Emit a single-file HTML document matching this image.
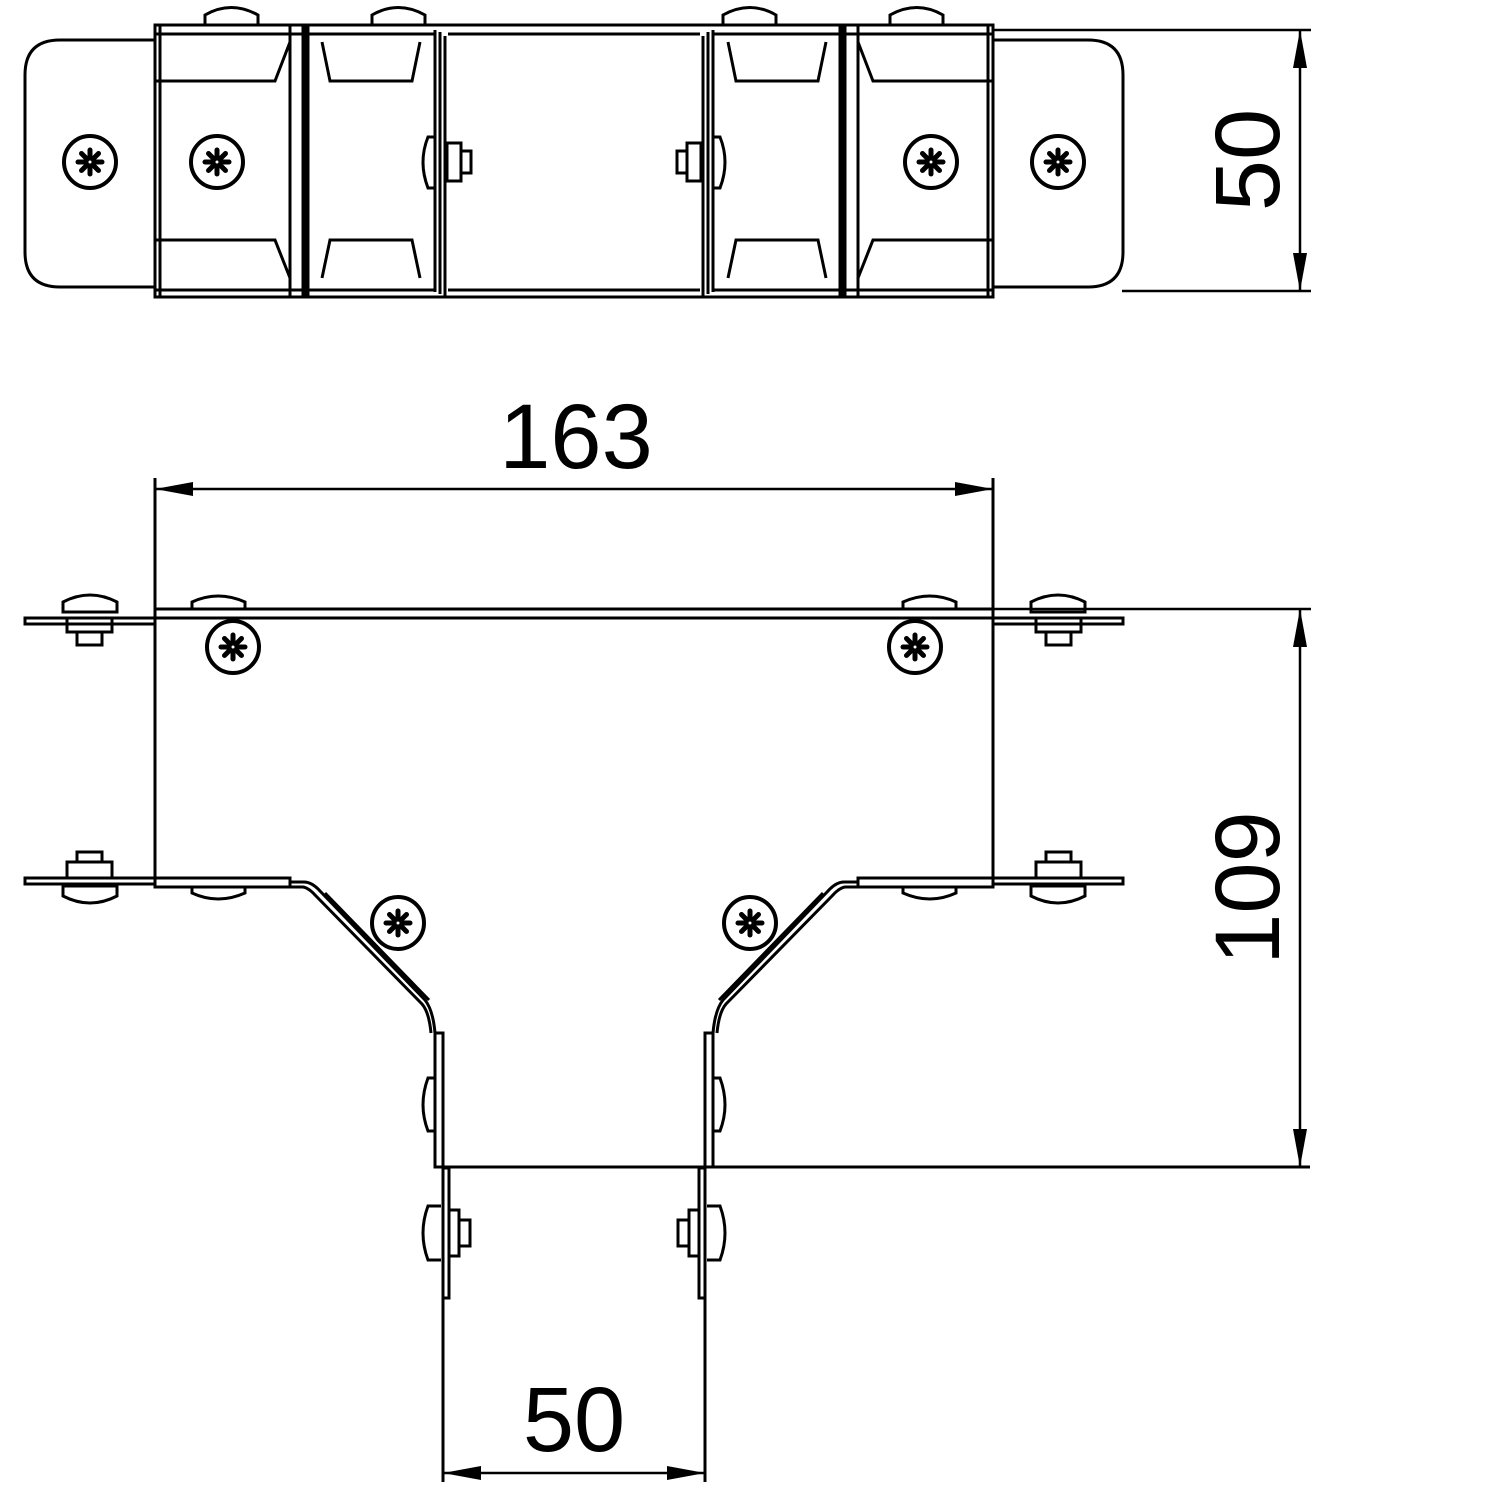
<!DOCTYPE html>
<html><head><meta charset="utf-8"><style>html,body{margin:0;padding:0;background:#fff}svg{display:block}</style></head>
<body>
<svg width="1500" height="1500" viewBox="0 0 1500 1500" xmlns="http://www.w3.org/2000/svg">
<defs>
<g id="scr">
<circle r="26" fill="#fff" stroke="#000" stroke-width="4"/>
<g stroke="#000" stroke-width="5" stroke-linecap="round">
<line x1="0" y1="-12" x2="0" y2="12"/><line x1="-12" y1="0" x2="12" y2="0"/>
<line x1="-8.5" y1="-8.5" x2="8.5" y2="8.5"/><line x1="-8.5" y1="8.5" x2="8.5" y2="-8.5"/>
</g>
<circle r="1.5" fill="#fff"/>
</g>
<g id="half" fill="none" stroke="#000" stroke-width="3">
<!-- TOP VIEW -->
<path d="M155,40 L60,40 Q25,40 25,75 L25,252 Q25,287 60,287 L155,287"/>
<rect x="155" y="25" width="150" height="272"/>
<line x1="160" y1="25" x2="160" y2="297"/>
<line x1="155" y1="34" x2="305" y2="34"/>
<line x1="155" y1="290" x2="305" y2="290"/>
<path d="M155,81 L275,81 L290,42"/>
<path d="M155,240 L275,240 L290,278"/>
<line x1="290" y1="25" x2="290" y2="297"/>
<line x1="303" y1="25" x2="303" y2="297"/>
<line x1="308" y1="25" x2="308" y2="297"/>
<line x1="305" y1="25" x2="574" y2="25"/>
<line x1="305" y1="297" x2="574" y2="297"/>
<line x1="305" y1="34" x2="435" y2="34"/>
<line x1="305" y1="290" x2="435" y2="290"/>
<path d="M322,42 L330,81 L412,81 L420,42"/>
<path d="M322,278 L330,240 L412,240 L420,278"/>
<line x1="435" y1="30" x2="435" y2="292"/>
<line x1="440" y1="32" x2="440" y2="294"/>
<line x1="445" y1="36" x2="445" y2="297"/>
<line x1="448" y1="34" x2="574" y2="34"/>
<line x1="448" y1="290" x2="574" y2="290"/>
<path d="M205,25 L205,15 Q231,0 258,15 L258,25"/>
<path d="M372,25 L372,15 Q398,0 425,15 L425,25"/>
<path d="M435,137 L428,137 Q418,162 428,188 L435,188"/>
<rect x="447" y="143" width="14" height="38"/>
<rect x="461" y="151" width="10" height="22"/>
<!-- BOTTOM VIEW -->
<line x1="155" y1="478" x2="155" y2="885"/>
<line x1="155" y1="609" x2="574" y2="609"/>
<line x1="155" y1="618" x2="574" y2="618"/>
<path d="M25,618 L155,618 L155,624 L25,624 Z"/>
<path d="M63,612 L63,602 Q90,588 117,602 L117,612 Z"/>
<rect x="67" y="618" width="45" height="14"/>
<rect x="77" y="632" width="25" height="13"/>
<path d="M192,609 L192,602 Q218,590 245,602 L245,609"/>
<path d="M25,878 L155,878 L155,884 L25,884 Z"/>
<rect x="67" y="862" width="45" height="16"/>
<rect x="77" y="852" width="25" height="10"/>
<path d="M63,886 L63,896 Q90,910 117,896 L117,886 Z"/>
<path d="M155,878 L290,878 L290,887 L155,887 Z"/>
<path d="M192,887 L192,893 Q218,905 245,893 L245,887"/>
<path d="M290,882 L304,882 Q312,882 320,891 L425,1000 Q433,1010 435,1033"/>
<path d="M290,887 L303,887 Q309,888 316,896 L422,1004 Q429,1012 431,1033"/>
<line x1="325" y1="893" x2="429" y2="1000"/>
<rect x="435" y="1033" width="8" height="134"/>
<path d="M435,1078 L428,1078 Q418,1105 428,1131 L435,1131"/>
<line x1="443" y1="1167" x2="574" y2="1167"/>
<rect x="443" y="1168" width="6" height="130"/>
<line x1="443" y1="1298" x2="443" y2="1482"/>
<path d="M441,1206 L428,1206 Q418,1233 428,1260 L441,1260"/>
<rect x="449" y="1210" width="10" height="46"/>
<rect x="459" y="1220" width="11" height="26"/>
</g>
</defs>
<use href="#half"/>
<use href="#half" transform="translate(1148,0) scale(-1,1)"/>
<g fill="none" stroke="#000" stroke-width="3">
<line x1="710" y1="1167" x2="1310" y2="1167"/>
</g>
<use href="#scr" x="90" y="162"/><use href="#scr" x="217" y="162"/>
<use href="#scr" x="931" y="162"/><use href="#scr" x="1058" y="162"/>
<use href="#scr" x="233" y="647"/><use href="#scr" x="915" y="647"/>
<use href="#scr" x="398" y="923"/><use href="#scr" x="750" y="923"/>
<g stroke="#000" stroke-width="2.5" fill="none">
<line x1="993" y1="30" x2="1311" y2="30"/>
<line x1="1122" y1="291" x2="1311" y2="291"/>
<line x1="1300" y1="30" x2="1300" y2="291"/>
<line x1="993" y1="609" x2="1311" y2="609"/>
<line x1="1300" y1="609" x2="1300" y2="1167"/>
<line x1="155" y1="489" x2="993" y2="489"/>
<line x1="443" y1="1473" x2="705" y2="1473"/>
</g>
<g fill="#000">
<polygon points="1300,30 1293,68 1307,68"/><polygon points="1300,291 1293,253 1307,253"/>
<polygon points="1300,609 1293,647 1307,647"/><polygon points="1300,1167 1293,1129 1307,1129"/>
<polygon points="155,489 193,482 193,496"/><polygon points="993,489 955,482 955,496"/>
<polygon points="443,1473 481,1466 481,1480"/><polygon points="705,1473 667,1466 667,1480"/>
</g>
<g font-family="Liberation Sans, sans-serif" font-size="92" fill="#000" text-anchor="middle">
<text x="576" y="468">163</text>
<text x="574" y="1451">50</text>
<text transform="translate(1279,160) rotate(-90)">50</text>
<text transform="translate(1279,888) rotate(-90)">109</text>
</g>
</svg>
</body></html>
